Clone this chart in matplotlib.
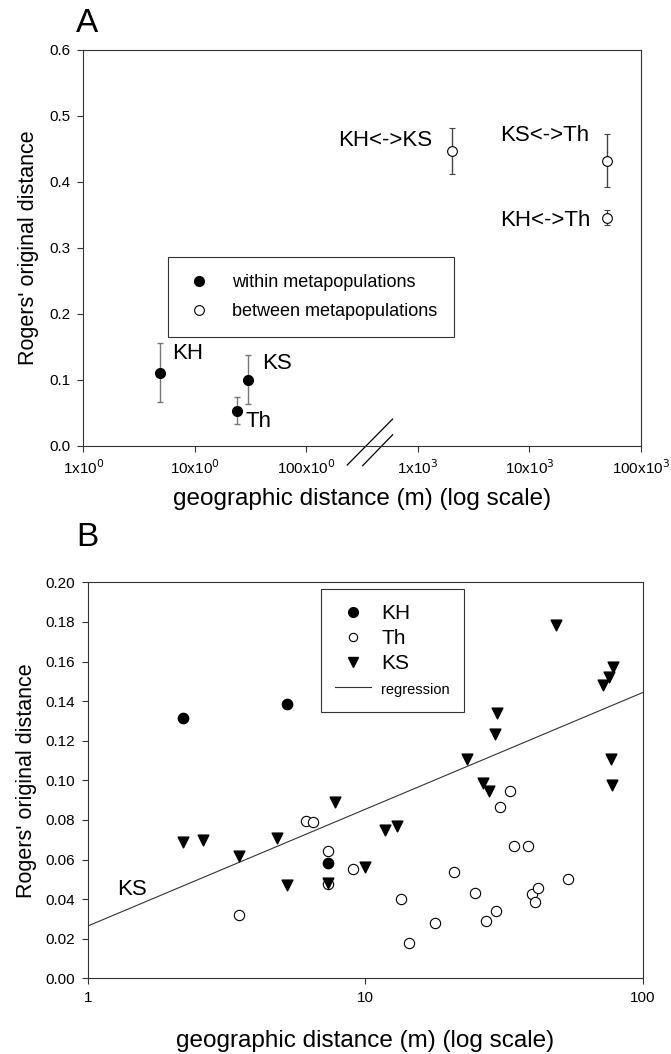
import numpy as np
import matplotlib
matplotlib.use("Agg")
import matplotlib.pyplot as plt
from matplotlib.lines import Line2D

plt.rcParams['font.family'] = ['Liberation Sans', 'DejaVu Sans']

# Panel A: mean distances with error bars
within_x = [4.9, 23.7, 29.7]
within_y = [0.110, 0.053, 0.100]
within_lo = [0.066, 0.033, 0.063]
within_hi = [0.155, 0.074, 0.137]
within_names = ["KH", "Th", "KS"]

between_x = [2000, 50000, 50000]
between_y = [0.447, 0.432, 0.345]
between_lo = [0.412, 0.392, 0.335]
between_hi = [0.481, 0.473, 0.358]
between_names = ["KH<->KS", "KS<->Th", "KH<->Th"]

a_xticks = [1, 10, 100, 1000, 10000, 100000]
a_xticklabels = [r'1x10$^0$', r'10x10$^0$', r'100x10$^0$',
                 r'1x10$^3$', r'10x10$^3$', r'100x10$^3$']
a_yticks = [0.0, 0.1, 0.2, 0.3, 0.4, 0.5, 0.6]

# Panel B: pairwise distances
kh_x = [2.20, 5.22, 7.35]
kh_y = [0.1316, 0.1385, 0.0581]

th_x = [3.50, 6.10, 6.49, 7.35, 7.35, 9.05, 13.4, 14.4, 17.8, 20.8, 24.8,
        27.3, 29.5, 30.5, 33.2, 34.4, 38.4, 39.7, 40.9, 41.9, 53.8]
th_y = [0.032, 0.0796, 0.079, 0.0645, 0.0475, 0.0554, 0.040, 0.0177, 0.0279,
        0.0538, 0.0432, 0.0289, 0.034, 0.0864, 0.0944, 0.0668, 0.0668,
        0.0424, 0.0387, 0.0458, 0.050]

ks_x = [2.20, 2.60, 3.50, 4.79, 5.21, 7.35, 7.79, 10.0, 11.77, 12.96, 23.2,
        26.6, 27.9, 29.3, 29.7, 48.6, 71.5, 75.6, 77.7, 76.8, 77.4]
ks_y = [0.069, 0.0698, 0.0619, 0.0707, 0.0471, 0.048, 0.089, 0.056, 0.0749,
        0.0771, 0.1109, 0.0988, 0.0946, 0.1232, 0.1341, 0.1784, 0.148, 0.152,
        0.157, 0.1109, 0.0975]

# regression of KS: y = a + b*log10(x)
reg_a = 0.0264
reg_b = 0.059

b_yticks = [0.00, 0.02, 0.04, 0.06, 0.08, 0.10, 0.12, 0.14, 0.16, 0.18, 0.20]

fig = plt.figure(figsize=(6.71, 10.54), dpi=100)

def style_axes(ax):
    for s in ax.spines.values():
        s.set_linewidth(0.8)
        s.set_color('#333333')
    ax.tick_params(which='both', direction='out', length=4, width=0.8, pad=5,
                   labelsize=11, top=False, right=False, color='#333333')
    ax.tick_params(which='minor', length=0)

# ---------- Panel A ----------
axA = fig.add_axes([0.1244, 0.5771, 0.8309, 0.3755])
axA.set_xscale('log')
axA.set_xlim(1, 100000)
axA.set_ylim(0, 0.6)

err_w = [np.array(within_y) - np.array(within_lo), np.array(within_hi) - np.array(within_y)]
axA.errorbar(within_x, within_y, yerr=err_w, fmt='o', color='black', ms=7,
             ecolor='#777777', elinewidth=1, capsize=2.5, capthick=1)
err_b = [np.array(between_y) - np.array(between_lo), np.array(between_hi) - np.array(between_y)]
axA.errorbar(between_x, between_y, yerr=err_b, fmt='o', mfc='white', mec='black',
             mew=0.8, ms=7, ecolor='#444444', elinewidth=1, capsize=2.5, capthick=1)

axA.text(6.3, 0.1405, "KH", fontsize=16, ha='left', va='center')
axA.text(40, 0.124, "KS", fontsize=16, ha='left', va='center')
axA.text(28.5, 0.036, "Th", fontsize=16, ha='left', va='center')
axA.text(1340, 0.4625, "KH<->KS", fontsize=16, ha='right', va='center')
axA.text(13800, 0.471, "KS<->Th", fontsize=16, ha='center', va='center')
axA.text(13800, 0.342, "KH<->Th", fontsize=16, ha='center', va='center')

axA.set_xticks(a_xticks)
axA.set_xticklabels(a_xticklabels)
axA.set_yticks(a_yticks)
axA.set_yticklabels(["%.1f" % v for v in a_yticks])
style_axes(axA)
axA.set_xlabel("geographic distance (m) (log scale)", fontsize=17.5, labelpad=8)
axA.set_ylabel("Rogers' original distance", fontsize=15.5, labelpad=8)

# axis break marks
axA.plot([0.473, 0.5545], [-0.0488, 0.0675], color='black', lw=0.9,
         transform=axA.transAxes, clip_on=False)
axA.plot([0.5007, 0.5545], [-0.0505, 0.0278], color='black', lw=0.9,
         transform=axA.transAxes, clip_on=False)

hA = [Line2D([], [], marker='o', ls='none', color='black', ms=7),
      Line2D([], [], marker='o', ls='none', mfc='white', mec='black', mew=0.8, ms=7)]
legA = axA.legend(hA, ["within metapopulations", "between metapopulations"],
                  loc='upper left', bbox_to_anchor=(0.1516, 0.4769), borderaxespad=0,
                  fontsize=13, frameon=True, fancybox=False, framealpha=1,
                  edgecolor='#333333', handletextpad=1.1, borderpad=0.95,
                  labelspacing=0.65, handlelength=1.5)
legA.get_frame().set_linewidth(0.8)
fig.text(0.113, 0.978, "A", fontsize=24, ha='left', va='center')

# ---------- Panel B ----------
axB = fig.add_axes([0.1307, 0.0718, 0.8276, 0.3757])
axB.set_xscale('log')
axB.set_xlim(1, 100)
axB.set_ylim(0, 0.2)

xr = np.array([1, 100])
axB.plot(xr, reg_a + reg_b * np.log10(xr), color='#333333', lw=0.8, label='regression')
axB.scatter(th_x, th_y, s=55, marker='o', facecolors='white', edgecolors='black',
            linewidths=0.8, zorder=3)
axB.scatter(ks_x, ks_y, s=60, marker='v', color='black', zorder=4)
axB.scatter(kh_x, kh_y, s=55, marker='o', color='black', zorder=5)
axB.text(1.44, 0.045, "KS", fontsize=16, ha='center', va='center')

axB.set_xticks([1, 10, 100])
axB.set_xticklabels(["1", "10", "100"])
axB.set_yticks(b_yticks)
axB.set_yticklabels(["%.2f" % v for v in b_yticks])
style_axes(axB)
axB.set_xlabel("geographic distance (m) (log scale)", fontsize=17.5, labelpad=18)
axB.set_ylabel("Rogers' original distance", fontsize=15.5, labelpad=6)

hB = [Line2D([], [], marker='o', ls='none', color='black', ms=7),
      Line2D([], [], marker='o', ls='none', mfc='white', mec='black', mew=0.8, ms=6),
      Line2D([], [], marker='v', ls='none', color='black', ms=7),
      Line2D([], [], color='#333333', lw=0.8)]
legB = axB.legend(hB, ["KH", "Th", "KS", "regression"], loc='upper left',
                  bbox_to_anchor=(0.4196, 0.9823), borderaxespad=0, fontsize=15,
                  frameon=True, fancybox=False, framealpha=1, edgecolor='#333333',
                  handletextpad=0.5, borderpad=0.7, labelspacing=0.3,
                  handlelength=1.7)
legB.get_frame().set_linewidth(0.8)
legB.get_texts()[3].set_fontsize(10.5)
fig.text(0.114, 0.49, "B", fontsize=24, ha='left', va='center')

fig.savefig("out.png", dpi=100)
